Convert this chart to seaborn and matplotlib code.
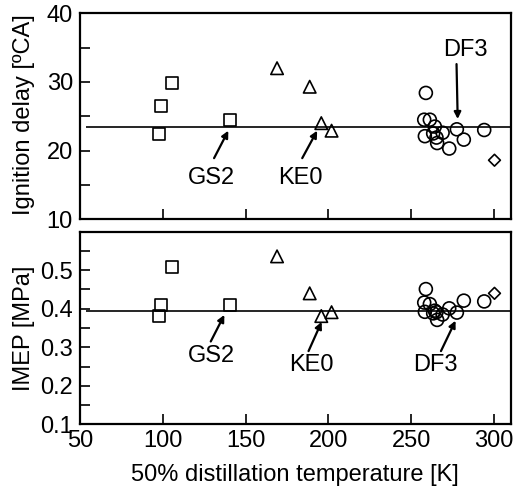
import matplotlib
matplotlib.use("Agg")
import matplotlib.pyplot as plt
import seaborn as sns
import pandas as pd
from matplotlib.ticker import MultipleLocator

# ---------------- data ----------------
gs_t50 = [97.8, 99.2, 105.8, 140.4]
gs_ign = [22.4, 26.5, 29.9, 24.5]
gs_imep = [0.381, 0.410, 0.509, 0.410]

ke_t50 = [169.0, 188.7, 195.7, 201.9]
ke_ign = [32.0, 29.3, 24.0, 22.9]
ke_imep = [0.536, 0.440, 0.381, 0.391]

df_t50 = [258.8, 257.8, 261.2, 264.2, 258.2, 263.2, 268.9, 265.2, 265.6, 272.9, 277.5, 281.7, 294.0]
df_ign = [28.4, 24.5, 24.5, 23.5, 22.1, 22.5, 22.6, 21.9, 21.1, 20.3, 23.1, 21.6, 23.0]
df_imep = [0.451, 0.416, 0.412, 0.395, 0.392, 0.388, 0.385, 0.391, 0.371, 0.401, 0.390, 0.421, 0.419]

ot_t50 = [300.2]
ot_ign = [18.6]
ot_imep = [0.440]

ign_mean = 23.5
imep_mean = 0.394
mean_line_x = [54, 310]

ann_labels = ["GS2", "KE0", "DF3"]
# top panel: text position, arrow tail, arrow head
top_text = [(129.5, 16.0), (182.8, 16.0), (282.9, 34.7)]
top_tail = [(131.0, 18.9), (184.2, 18.9), (277.3, 32.6)]
top_head = [(139.6, 22.9), (193.2, 22.9), (278.0, 24.6)]
# bottom panel
bot_text = [(129.5, 0.276), (189.8, 0.254), (264.8, 0.254)]
bot_tail = [(129.0, 0.315), (188.0, 0.290), (267.9, 0.290)]
bot_head = [(137.2, 0.384), (195.9, 0.366), (276.7, 0.369)]

xlabel = "50% distillation temperature [K]"
ylabel_top = "Ignition delay [ºCA]"
ylabel_bot = "IMEP [MPa]"

# ---------------- frame ----------------
frames = []
for name, t, ig, im in [("GS", gs_t50, gs_ign, gs_imep),
                        ("KE", ke_t50, ke_ign, ke_imep),
                        ("DF", df_t50, df_ign, df_imep),
                        ("OT", ot_t50, ot_ign, ot_imep)]:
    frames.append(pd.DataFrame({"t50": t, "ign": ig, "imep": im, "group": name}))
data = pd.concat(frames, ignore_index=True)

marker_map = {"GS": "s", "KE": "^", "DF": "o", "OT": "D"}
size_map = {"GS": 8.5, "KE": 9.0, "DF": 9.3, "OT": 6.0}

sns.set_theme(style="ticks")
plt.rcParams["font.family"] = ["Liberation Sans", "DejaVu Sans"]
plt.rcParams["text.color"] = "black"
plt.rcParams["axes.labelcolor"] = "black"
plt.rcParams["xtick.color"] = "black"
plt.rcParams["ytick.color"] = "black"
plt.rcParams["xtick.labelcolor"] = "black"
plt.rcParams["ytick.labelcolor"] = "black"
FS = 17

fig = plt.figure(figsize=(5.15, 4.97), dpi=100)
ax1 = fig.add_axes([0.155, 0.5588, 0.8367, 0.4145])
ax2 = fig.add_axes([0.155, 0.1463, 0.8367, 0.3875])

for ax, ycol, mean, texts, tails, heads in [
        (ax1, "ign", ign_mean, top_text, top_tail, top_head),
        (ax2, "imep", imep_mean, bot_text, bot_tail, bot_head)]:
    ax.hlines(mean, mean_line_x[0], mean_line_x[1], color="black", lw=1.2, zorder=2)
    for g, sub in data.groupby("group"):
        sns.scatterplot(data=sub, x="t50", y=ycol, ax=ax, marker=marker_map[g],
                        s=size_map[g] ** 2, facecolor="none", edgecolor="black",
                        linewidth=1.2, zorder=3, legend=False)
    for lab, tp, tl, hd in zip(ann_labels, texts, tails, heads):
        ax.annotate("", xy=hd, xytext=tl,
                    arrowprops=dict(arrowstyle="-|>", color="black", lw=1.6,
                                    mutation_scale=10, shrinkA=0, shrinkB=0))
        ax.text(tp[0], tp[1], lab, ha="center", va="center", fontsize=FS, color="black")
    ax.set_xlim(50, 310)
    ax.xaxis.set_major_locator(MultipleLocator(50))
    ax.tick_params(axis="both", which="both", direction="in", length=7, width=1.2,
                   labelsize=FS, top=False, right=False, color="black",
                   labelcolor="black")
    ax.tick_params(axis="y", pad=5)
    ax.tick_params(axis="x", pad=4)
    for sp in ax.spines.values():
        sp.set_linewidth(1.6)
        sp.set_color("black")
        sp.set_visible(True)

ax1.set_ylim(10, 40)
ax1.yaxis.set_major_locator(MultipleLocator(10))
ax1.yaxis.set_minor_locator(MultipleLocator(5))
ax1.tick_params(axis="x", labelbottom=False)
ax1.set_xlabel("")
ax1.set_ylabel(ylabel_top, fontsize=FS, color="black")
ax1.yaxis.set_label_coords(-0.105, 0.51)

ax2.set_ylim(0.1, 0.6)
ax2.set_yticks([0.1, 0.2, 0.3, 0.4, 0.5])
ax2.set_yticklabels(["0.1", "0.2", "0.3", "0.4", "0.5"])
ax2.yaxis.set_minor_locator(MultipleLocator(0.05))
ax2.set_xlabel(xlabel, fontsize=FS, labelpad=9, color="black")
ax2.set_ylabel(ylabel_bot, fontsize=FS, color="black")
ax2.yaxis.set_label_coords(-0.105, 0.5)

fig.savefig("out.png", dpi=100)
